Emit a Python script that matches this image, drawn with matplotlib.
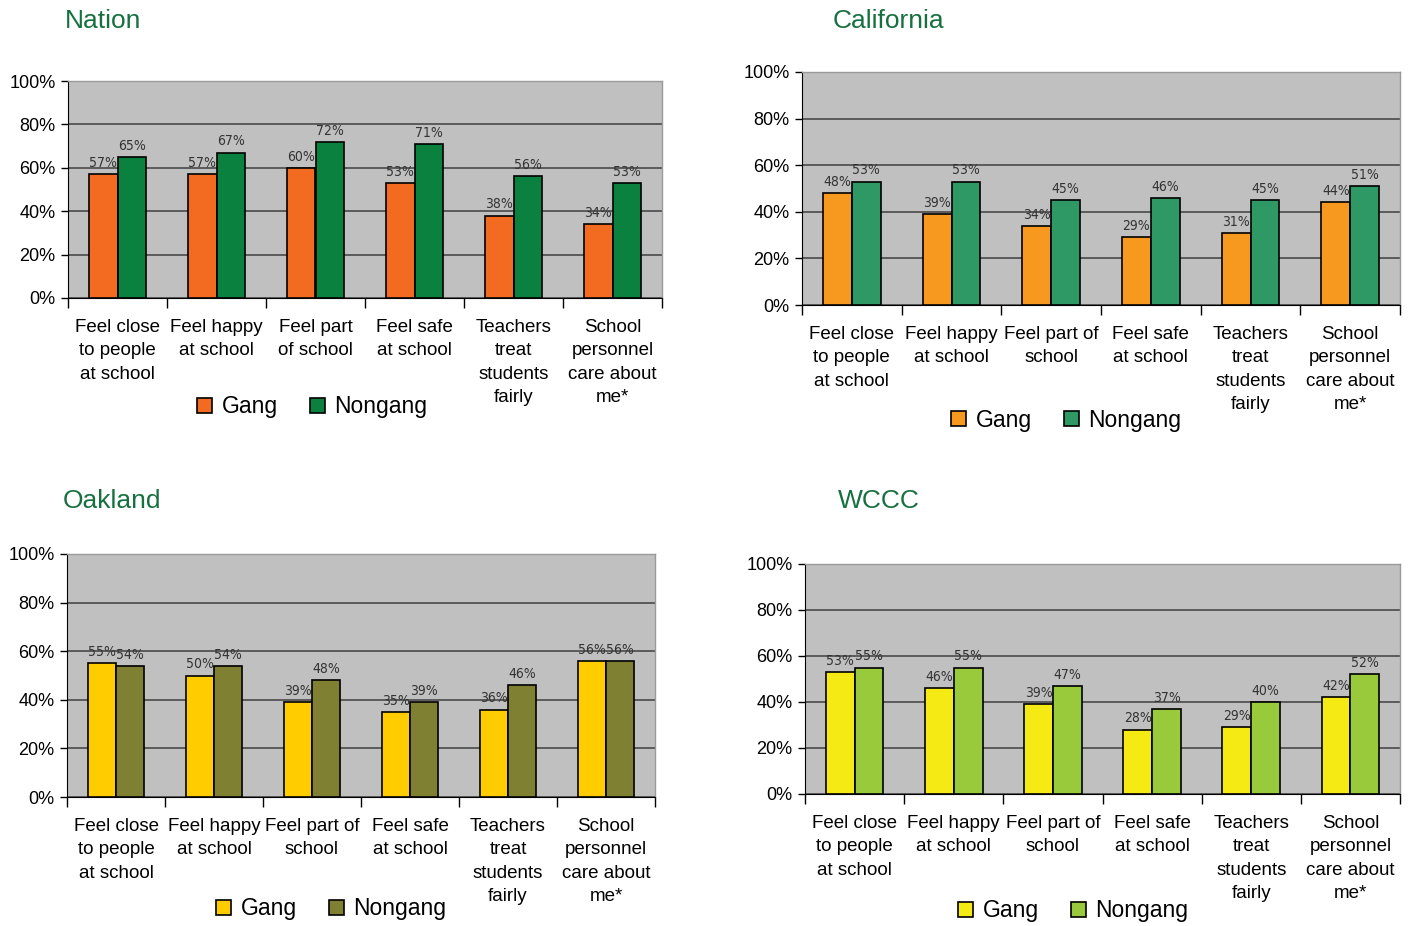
import matplotlib
matplotlib.use('Agg')
import matplotlib.pyplot as plt
import numpy as np

plt.rcParams['font.family'] = ['Liberation Sans', 'DejaVu Sans']

# data
titles = ['Nation', 'California', 'Oakland', 'WCCC']
cats_nation = ['Feel close\nto people\nat school', 'Feel happy\nat school', 'Feel part\nof school',
               'Feel safe\nat school', 'Teachers\ntreat\nstudents\nfairly', 'School\npersonnel\ncare about\nme*']
cats_other = ['Feel close\nto people\nat school', 'Feel happy\nat school', 'Feel part of\nschool',
              'Feel safe\nat school', 'Teachers\ntreat\nstudents\nfairly', 'School\npersonnel\ncare about\nme*']
gang_nation = [57, 57, 60, 53, 38, 34]
nongang_nation = [65, 67, 72, 71, 56, 53]
gang_california = [48, 39, 34, 29, 31, 44]
nongang_california = [53, 53, 45, 46, 45, 51]
gang_oakland = [55, 50, 39, 35, 36, 56]
nongang_oakland = [54, 54, 48, 39, 46, 56]
gang_wccc = [53, 46, 39, 28, 29, 42]
nongang_wccc = [55, 55, 47, 37, 40, 52]

panels = [
    (cats_nation, gang_nation, nongang_nation, '#F26B21', '#0B8140'),
    (cats_other, gang_california, nongang_california, '#F7991E', '#2F9966'),
    (cats_other, gang_oakland, nongang_oakland, '#FFCC00', '#808033'),
    (cats_other, gang_wccc, nongang_wccc, '#F5EA14', '#99CA3C'),
]

# layout (figure pixels)
W, H = 1410, 926
boxes = [(68, 81, 662, 298), (802, 72, 1400, 305), (67, 554, 655, 797), (805, 564, 1400, 794)]
title_pos = [(65, 21), (833, 21), (63, 501), (838, 501)]
legend_pos = [(312, 407), (1066, 420), (331, 909), (1073, 911)]

fig = plt.figure(figsize=(W / 100, H / 100), dpi=100)
fig.patch.set_facecolor('white')

for i in range(4):
    cats, gang, nongang, c1, c2 = panels[i]
    l, t, r, b = boxes[i]
    ax = fig.add_axes([l / W, 1 - b / H, (r - l) / W, (b - t) / H])
    ax.set_facecolor('#C0C0C0')
    x = np.arange(len(cats))
    w = 0.29
    b1 = ax.bar(x - w / 2, gang, w, color=c1, edgecolor='black', linewidth=1.2, label='Gang', zorder=3)
    b2 = ax.bar(x + w / 2, nongang, w, color=c2, edgecolor='black', linewidth=1.2, label='Nongang', zorder=3)
    for bars, vals in ((b1, gang), (b2, nongang)):
        for bar, v in zip(bars, vals):
            ax.annotate(f'{v}%', (bar.get_x() + bar.get_width() / 2, v), xytext=(0, 3),
                        textcoords='offset points', ha='center', va='bottom', fontsize=10,
                        color='#333333', family=['DejaVu Sans Condensed', 'DejaVu Sans'],
                        fontstretch='condensed')
    ax.set_xlim(-0.5, len(cats) - 0.5)
    ax.set_ylim(0, 100)
    ax.set_yticks(np.arange(0, 101, 20))
    ax.set_yticklabels([f'{v}%' for v in range(0, 101, 20)], fontsize=13)
    ax.yaxis.grid(True, color='#404040', linewidth=1.1, zorder=1)
    ax.set_axisbelow(True)
    ax.tick_params(axis='y', direction='out', length=5, width=1, pad=4)
    ax.set_xticks(np.arange(len(cats) + 1) - 0.5)
    ax.set_xticklabels([])
    ax.tick_params(axis='x', which='major', direction='out', length=7, width=1)
    ax.set_xticks(x, minor=True)
    ax.set_xticklabels(cats, minor=True, fontsize=13.5, linespacing=1.5)
    ax.tick_params(axis='x', which='minor', length=0, pad=15)
    for s in ('top', 'right'):
        ax.spines[s].set_color('#9A9A9A')
        ax.spines[s].set_linewidth(1)
    ax.spines['left'].set_color('black')
    ax.spines['bottom'].set_color('black')

    lx, ly = legend_pos[i]
    ax.legend(loc='center', bbox_to_anchor=((lx - l) / (r - l), (b - ly) / (b - t)),
              ncol=2, frameon=False, fontsize=16.5, handlelength=0.65, handleheight=0.65,
              handletextpad=0.4, columnspacing=1.4, borderpad=0)

    tx, ty = title_pos[i]
    fig.text(tx / W, 1 - ty / H, titles[i], fontsize=19, color='#17703F', ha='left', va='center')

fig.savefig('out.png', dpi=100)
